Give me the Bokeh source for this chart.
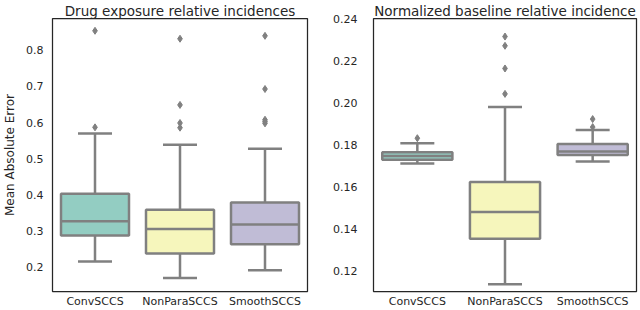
from bokeh.plotting import figure
from bokeh.layouts import row
from bokeh.models import ColumnDataSource, FixedTicker, NumeralTickFormatter, Range1d, Whisker, TeeHead
from bokeh.transform import dodge
from bokeh.embed import file_html
from bokeh.resources import INLINE

categories = ["ConvSCCS", "NonParaSCCS", "SmoothSCCS"]
colors = ["#93cdc2", "#f6f6bc", "#c0bcd6"]

# Left panel: Drug exposure relative incidences
drug_wlo = [0.216, 0.170, 0.192]
drug_q1 = [0.288, 0.238, 0.264]
drug_med = [0.327, 0.306, 0.318]
drug_q3 = [0.403, 0.359, 0.379]
drug_whi = [0.570, 0.539, 0.528]
drug_out = {
    "ConvSCCS": [0.587, 0.854],
    "NonParaSCCS": [0.586, 0.599, 0.649, 0.832],
    "SmoothSCCS": [0.598, 0.603, 0.608, 0.693, 0.840],
}
drug_ticks = [0.2, 0.3, 0.4, 0.5, 0.6, 0.7, 0.8]

# Right panel: Normalized baseline relative incidence
base_wlo = [0.1710, 0.1135, 0.1719]
base_q1 = [0.1727, 0.1351, 0.1750]
base_med = [0.1745, 0.1478, 0.1767]
base_q3 = [0.1763, 0.1621, 0.1802]
base_whi = [0.1806, 0.1978, 0.1869]
base_out = {
    "ConvSCCS": [0.1830],
    "NonParaSCCS": [0.2041, 0.2162, 0.2270, 0.2314],
    "SmoothSCCS": [0.1883, 0.1921],
}
base_ticks = [0.12, 0.14, 0.16, 0.18, 0.20, 0.22, 0.24]

LINE = "#808080"
TXT = "#262626"
FONT = "DejaVu Sans"


def make_panel(title, wlo, q1, med, q3, whi, outl, yr, ticks, fmt, ylabel,
               bl, br, standoff, fw):
    p = figure(x_range=categories, y_range=Range1d(*yr), width=bl + br + fw,
               height=310, output_backend="svg", toolbar_location=None,
               min_border_left=bl, min_border_right=br, min_border_top=15,
               min_border_bottom=14, title=title)
    p.title.text_font = FONT
    p.title.text_font_size = "13.5px"
    p.title.text_font_style = "normal"
    p.title.text_color = TXT
    p.title.align = "center"
    p.title.standoff = 0
    p.title.offset = 0
    src = ColumnDataSource(dict(cat=categories, wlo=wlo, q1=q1, med=med, q3=q3,
                                whi=whi, color=colors))
    p.vbar(x="cat", bottom="q1", top="q3", width=0.8, fill_color="color",
           line_color=LINE, line_width=2.5, source=src)
    p.segment(x0=dodge("cat", -0.4, range=p.x_range), x1=dodge("cat", 0.4, range=p.x_range),
              y0="med", y1="med", line_color=LINE, line_width=2.5, source=src)
    for lo, hi, which in (("wlo", "q1", "lower"), ("q3", "whi", "upper")):
        head = TeeHead(size=34, line_color=LINE, line_width=2.5)
        w = Whisker(base="cat", lower=lo, upper=hi, source=src, dimension="height",
                    line_color=LINE, line_width=2.5,
                    lower_head=head if which == "lower" else None,
                    upper_head=head if which == "upper" else None)
        p.add_layout(w)
    ox, oy = [], []
    for c in categories:
        for v in outl[c]:
            ox.append(c)
            oy.append(v)
    p.scatter(ox, oy, marker="diamond", size=7, fill_color=LINE, line_color=LINE)

    p.xgrid.visible = False
    p.ygrid.visible = False
    p.outline_line_color = TXT
    p.outline_line_width = 1.25
    p.yaxis.ticker = FixedTicker(ticks=ticks)
    p.yaxis.formatter = NumeralTickFormatter(format=fmt)
    for ax in (p.xaxis[0], p.yaxis[0]):
        ax.axis_line_color = None
        ax.major_tick_line_color = None
        ax.minor_tick_line_color = None
        ax.major_tick_out = 0
        ax.major_tick_in = 0
        ax.minor_tick_out = 0
        ax.minor_tick_in = 0
        ax.major_label_text_font = FONT
        ax.major_label_text_font_size = "11px"
        ax.major_label_text_color = TXT
    p.xaxis.major_label_standoff = 3
    p.yaxis.major_label_standoff = standoff
    if ylabel:
        p.yaxis.axis_label = ylabel
        p.yaxis.axis_label_text_font = FONT
        p.yaxis.axis_label_text_font_size = "12px"
        p.yaxis.axis_label_text_font_style = "normal"
        p.yaxis.axis_label_text_color = TXT
        p.yaxis.axis_label_standoff = 6
    return p


p1 = make_panel("Drug exposure relative incidences", drug_wlo, drug_q1, drug_med, drug_q3,
                drug_whi, drug_out, (0.133, 0.888), drug_ticks, "0.0", "Mean Absolute Error",
                43, 13, 9, 264)
p2 = make_panel("Normalized baseline relative incidence", base_wlo, base_q1, base_med, base_q3,
                base_whi, base_out, (0.110, 0.240), base_ticks, "0.00", None,
                53, 4, 16, 263)

layout = row(p1, p2)
open("out.html", "w").write(file_html(layout, INLINE))
